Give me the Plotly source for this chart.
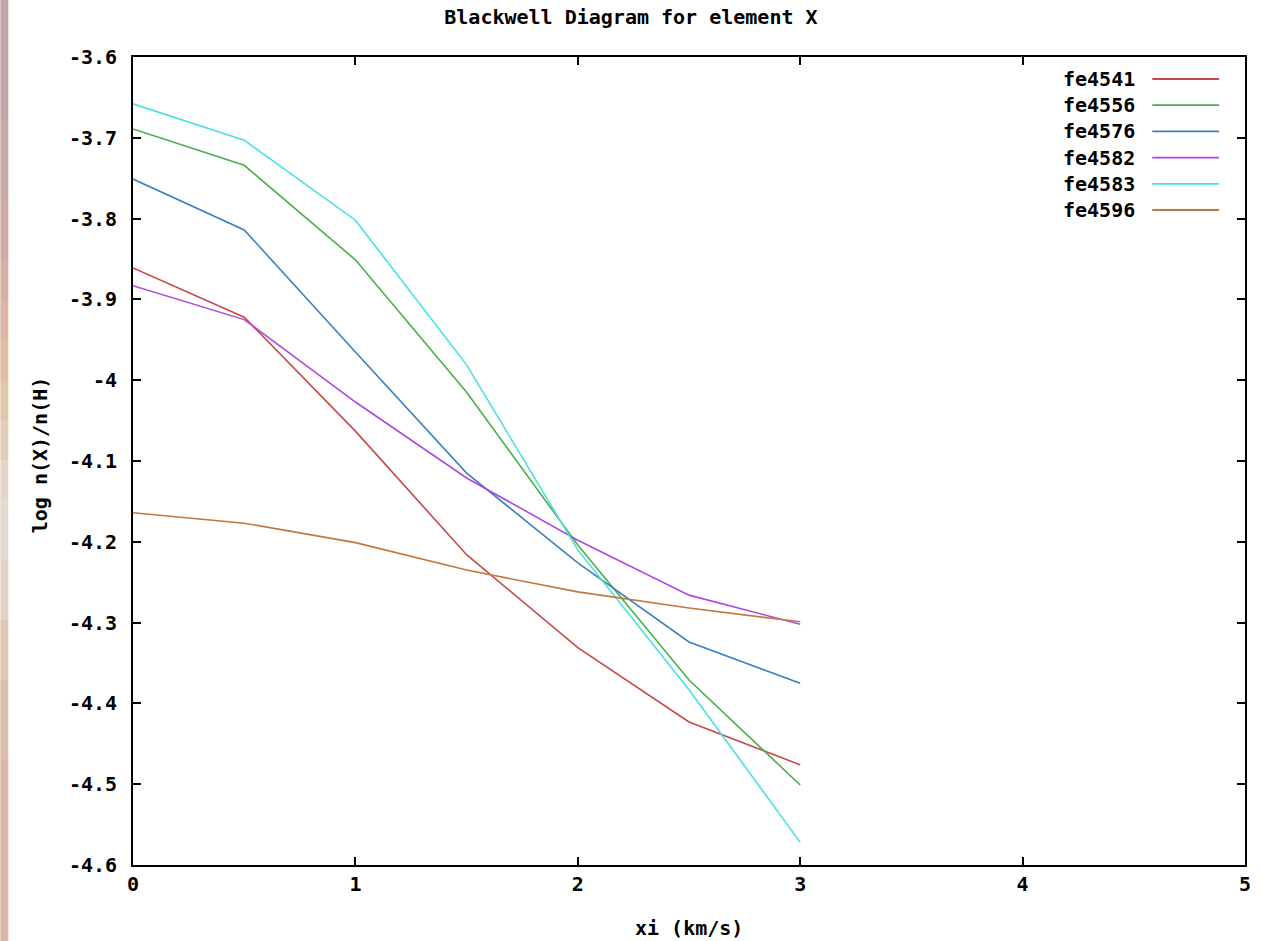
import plotly.graph_objects as go

xi = [0, 0.5, 1, 1.5, 2, 2.5, 3]
names = ["fe4541", "fe4556", "fe4576", "fe4582", "fe4583", "fe4596"]
fe4541 = [-3.861, -3.922, -4.063, -4.216, -4.331, -4.423, -4.476]
fe4556 = [-3.689, -3.734, -3.851, -4.015, -4.204, -4.371, -4.501]
fe4576 = [-3.751, -3.814, -3.965, -4.115, -4.226, -4.324, -4.375]
fe4582 = [-3.883, -3.925, -4.027, -4.121, -4.198, -4.266, -4.302]
fe4583 = [-3.658, -3.703, -3.802, -3.981, -4.210, -4.383, -4.572]
fe4596 = [-4.164, -4.177, -4.201, -4.235, -4.262, -4.282, -4.299]
series = [fe4541, fe4556, fe4576, fe4582, fe4583, fe4596]
colors = ["#c84848", "#48b048", "#3a80c0", "#b048e0", "#48e0e0", "#c07840"]

ytick_vals = [-3.6, -3.7, -3.8, -3.9, -4.0, -4.1, -4.2, -4.3, -4.4, -4.5, -4.6]
ytick_text = ["-3.6", "-3.7", "-3.8", "-3.9", "-4", "-4.1", "-4.2", "-4.3", "-4.4", "-4.5", "-4.6"]
xtick_vals = [0, 1, 2, 3, 4, 5]

FONT = "DejaVu Sans Mono"
FS = 20

fig = go.Figure()
for name, ys, c in zip(names, series, colors):
    fig.add_trace(go.Scatter(x=xi, y=ys, mode="lines", name=name,
                             line=dict(color=c, width=1.6), showlegend=False))

W, H = 1263, 941
L, R, T, B = 133, 15, 57, 76
pw, ph = W - L - R, H - T - B

def px(x):
    return (x - L) / pw

def py(y):
    return 1 - (y - T) / ph

shapes = []
annotations = []
# manual gnuplot-style legend: text right, line sample to the right
for i, (name, c) in enumerate(zip(names, colors)):
    yy = 79 + i * 26.2
    annotations.append(dict(text=name, xref="paper", yref="paper", x=px(1140), y=py(yy),
                            xanchor="right", yanchor="middle", showarrow=False,
                            font=dict(family=FONT, size=FS, color="black", weight="bold")))
    shapes.append(dict(type="line", xref="paper", yref="paper", x0=px(1155), x1=px(1222),
                       y0=py(yy), y1=py(yy), line=dict(color=c, width=1.8)))

# axis titles
annotations.append(dict(text="xi (km/s)", xref="paper", yref="paper", x=px(690), y=py(928),
                        xanchor="center", yanchor="middle", showarrow=False,
                        font=dict(family=FONT, size=FS, color="black", weight="bold")))
annotations.append(dict(text="log n(X)/n(H)", xref="paper", yref="paper", x=px(40), y=py(455),
                        xanchor="center", yanchor="middle", showarrow=False, textangle=-90,
                        font=dict(family=FONT, size=FS, color="black", weight="bold")))

# left decorative gradient strip
strip = [(0, 120, "#c4a4a8"), (120, 200, "#caa8a8"), (200, 260, "#d0aca6"),
         (260, 300, "#d6b2a4"), (300, 340, "#dcb8a2"), (340, 380, "#e0bea4"),
         (380, 420, "#e2c6ac"), (420, 460, "#e3ceb8"), (460, 500, "#e4d6c8"),
         (500, 560, "#e4dad0"), (560, 620, "#e2d2c4"), (620, 680, "#dfc6b4"),
         (680, 760, "#dcbcaa"), (760, 941, "#dab6a4")]
for y0, y1, c in strip:
    shapes.append(dict(type="rect", xref="paper", yref="paper", x0=px(0), x1=px(8),
                       y0=py(y1), y1=py(y0), fillcolor=c, line=dict(width=0), layer="below"))

fig.update_layout(
    width=W, height=H,
    margin=dict(l=L, r=R, t=T, b=B),
    paper_bgcolor="white", plot_bgcolor="white",
    title=dict(text="Blackwell Diagram for element X", x=px(690), xanchor="center",
               y=1 - 17 / H, yanchor="middle",
               font=dict(family=FONT, size=FS, color="black", weight="bold")),
    font=dict(family=FONT, size=FS, color="black"),
    shapes=shapes, annotations=annotations,
    showlegend=False,
)
fig.update_xaxes(range=[0, 5], tickvals=xtick_vals, ticks="inside", ticklen=8,
                 tickcolor="black", tickwidth=1.5, showline=True, linecolor="black", linewidth=1.8,
                 mirror="ticks", showgrid=False, zeroline=False,
                 tickfont=dict(family=FONT, size=FS, weight="bold"))
fig.update_yaxes(range=[-4.6, -3.6], tickvals=ytick_vals, ticktext=ytick_text,
                 ticks="inside", ticklen=8, tickcolor="black", tickwidth=1.5, showline=True,
                 linecolor="black", linewidth=1.8, mirror="ticks", showgrid=False,
                 zeroline=False, ticklabelstandoff=10,
                 tickfont=dict(family=FONT, size=FS, weight="bold"))

fig.write_html("out.html", config={"displayModeBar": False},
               post_script="document.body.style.margin='0';")
